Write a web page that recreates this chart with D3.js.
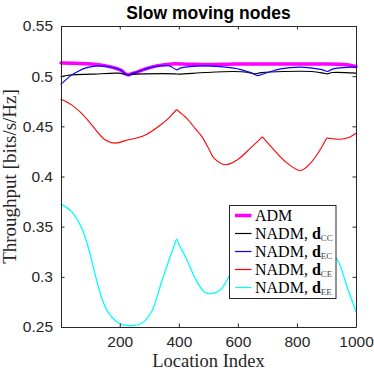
<!DOCTYPE html>
<html>
<head>
<meta charset="utf-8">
<script src="https://cdn.jsdelivr.net/npm/d3@7/dist/d3.min.js"></script>
<style>
html,body{margin:0;padding:0;background:#fff;}
svg{display:block;}
</style>
</head>
<body>
<svg id="chart" width="374" height="374"></svg>
<script>
// ---- data ----
const xTicks = [200, 400, 600, 800, 1000];
const yTicks = [0.25, 0.3, 0.35, 0.4, 0.45, 0.5, 0.55];
const yTickLabels = ["0.25", "0.3", "0.35", "0.4", "0.45", "0.5", "0.55"];

const admIdx = [1,50,105,150,173,195,206,218,229,240,252,263,285,308,340,376,430,489,550,586,650,756,850,903,940,971,1000];
const admVal = [0.513,0.5128,0.5122,0.5105,0.509,0.507,0.5056,0.5025,0.5013,0.5025,0.5035,0.5046,0.507,0.509,0.511,0.5122,0.512,0.5116,0.5118,0.5122,0.5122,0.5122,0.5122,0.5122,0.512,0.5113,0.5096];

const ccIdx = [1,37,105,196,218,229,240,286,388,400,489,586,630,654,680,756,850,890,903,920,1000];
const ccVal = [0.4996,0.5013,0.502,0.503,0.5018,0.5013,0.5018,0.5023,0.5023,0.502,0.5036,0.5046,0.504,0.5023,0.5035,0.5046,0.5046,0.503,0.5023,0.5036,0.503];

const ecIdx = [1,20,37,60,83,105,128,160,190,206,218,229,240,263,308,340,365,380,393,405,422,460,489,540,586,610,632,650,666,683,700,745,813,869,890,903,920,937,982,1000];
const ecVal = [0.492,0.497,0.5013,0.505,0.508,0.5095,0.5103,0.5095,0.5075,0.5056,0.5025,0.5013,0.5025,0.5046,0.509,0.5103,0.5103,0.5085,0.5063,0.508,0.509,0.51,0.5103,0.5095,0.508,0.5065,0.5046,0.503,0.5006,0.502,0.5036,0.5073,0.509,0.5073,0.506,0.5046,0.507,0.508,0.509,0.509];

const ceIdx = [1,37,71,105,150,184,229,263,292,331,365,385,393,401,427,455,478,501,519,558,598,643,675,683,691,722,767,813,846,875,893,901,910,925,948,976,1000];
const ceVal = [0.477,0.4714,0.463,0.4515,0.4366,0.4333,0.4366,0.4389,0.4422,0.4498,0.458,0.4643,0.4664,0.4645,0.458,0.448,0.4398,0.428,0.4183,0.4117,0.4166,0.4283,0.4372,0.4392,0.4368,0.4266,0.4133,0.406,0.4133,0.4249,0.434,0.4382,0.438,0.4375,0.4372,0.4389,0.4432];

const eeIdx = [1,37,71,94,117,139,162,196,229,275,308,342,371,385,393,401,422,455,484,502,541,570,610,650,683,720,760,800,850,900,937,971,1000];
const eeVal = [0.3725,0.365,0.3486,0.3287,0.302,0.2789,0.264,0.254,0.2513,0.254,0.2655,0.2954,0.3203,0.3318,0.3376,0.3318,0.3203,0.2988,0.2855,0.2832,0.2871,0.3004,0.32,0.335,0.34,0.33,0.315,0.31,0.318,0.326,0.317,0.2888,0.2655];

const seriesNames = ["ADM", "NADM, ", "NADM, ", "NADM, ", "NADM, "];
const seriesSubs = ["", "CC", "EC", "CE", "EE"];
const seriesColors = ["#ff00ff", "#000000", "#0000ff", "#ff0000", "#00ffff"];
const seriesWidths = [3.5, 1.1, 1.1, 1.1, 1.3];
const seriesIdx = [admIdx, ccIdx, ecIdx, ceIdx, eeIdx];
const seriesVal = [admVal, ccVal, ecVal, ceVal, eeVal];

// ---- layout ----
const svg = d3.select("#chart");
const L = 61, R = 356, T = 26, B = 327;
const x = d3.scaleLinear().domain([1, 1000]).range([L, R]);
const y = d3.scaleLinear().domain([0.25, 0.55]).range([B, T]);
const axisColor = "#262626";
const tickFont = "'Liberation Sans', Arial, Helvetica, sans-serif";
const serif = "'Liberation Serif', 'Times New Roman', serif";

const line = d3.line().curve(d3.curveCatmullRom.alpha(0.5));
const plotG = svg.append("g");
[0, 1, 2, 3, 4].forEach(i => {
  const pts = seriesIdx[i].map((v, k) => [x(v), y(seriesVal[i][k])]);
  plotG.append("path")
    .attr("d", line(pts))
    .attr("fill", "none")
    .attr("stroke", seriesColors[i])
    .attr("stroke-width", seriesWidths[i])
    .attr("stroke-linejoin", "round")
    .attr("stroke-linecap", "round");
});

// axes with inward ticks
const tl = 3.5;
const xAxisB = d3.axisBottom(x).tickValues(xTicks).tickSizeInner(-tl).tickSizeOuter(0).tickPadding(9).tickFormat(d3.format("d"));
const xAxisT = d3.axisTop(x).tickValues(xTicks).tickSizeInner(-tl).tickSizeOuter(0).tickFormat("");
const yAxisL = d3.axisLeft(y).tickValues(yTicks).tickSizeInner(-tl).tickSizeOuter(0).tickPadding(8).tickFormat((d, i) => yTickLabels[i]);
const yAxisR = d3.axisRight(y).tickValues(yTicks).tickSizeInner(-tl).tickSizeOuter(0).tickFormat("");

function style(g) {
  g.select(".domain").attr("stroke", axisColor).attr("stroke-width", 1);
  g.selectAll(".tick line").attr("stroke", axisColor).attr("stroke-width", 1);
  g.selectAll(".tick text").attr("fill", axisColor).style("font-family", tickFont).style("font-size", "15.5px");
}
svg.append("g").attr("transform", `translate(0,${B})`).call(xAxisB).call(style);
svg.append("g").attr("transform", `translate(0,${T})`).call(xAxisT).call(style);
svg.append("g").attr("transform", `translate(${L},0)`).call(yAxisL).call(style);
svg.append("g").attr("transform", `translate(${R},0)`).call(yAxisR).call(style);

// title
svg.append("text").attr("x", (L + R) / 2).attr("y", 19)
  .attr("text-anchor", "middle")
  .style("font-family", tickFont).style("font-weight", "bold").style("font-size", "17.5px")
  .attr("fill", "#000").text("Slow moving nodes");

// axis labels
svg.append("text").attr("x", (L + R) / 2).attr("y", 366.5)
  .attr("text-anchor", "middle")
  .style("font-family", serif).style("font-size", "18.5px").attr("fill", axisColor)
  .text("Location Index");
svg.append("text").attr("transform", `translate(16,${(T + B) / 2}) rotate(-90)`)
  .attr("text-anchor", "middle")
  .style("font-family", serif).style("font-size", "19px").attr("fill", axisColor)
  .text("Throughput [bits/s/Hz]");

// legend
const lg = svg.append("g");
const lx0 = 229.5, ly0 = 205.5, lw = 106.5, lh = 93;
lg.append("rect").attr("x", lx0).attr("y", ly0).attr("width", lw).attr("height", lh)
  .attr("fill", "#fff").attr("stroke", axisColor).attr("stroke-width", 1);
seriesNames.forEach((name, i) => {
  const cy = ly0 + 10 + i * 18;
  lg.append("line").attr("x1", lx0 + 5.5).attr("x2", lx0 + 22).attr("y1", cy).attr("y2", cy)
    .attr("stroke", seriesColors[i]).attr("stroke-width", i === 0 ? 3.5 : 1.2);
  const t = lg.append("text").attr("x", lx0 + 25.5).attr("y", cy + 5)
    .style("font-family", serif).style("font-size", "16px").attr("fill", "#000");
  t.append("tspan").text(name);
  if (seriesSubs[i]) {
    t.append("tspan").style("font-weight", "bold").text("d");
    t.append("tspan").attr("dy", 2.5).style("font-size", "9px").attr("fill", "#444").text(seriesSubs[i]);
  }
});
</script>
</body>
</html>
